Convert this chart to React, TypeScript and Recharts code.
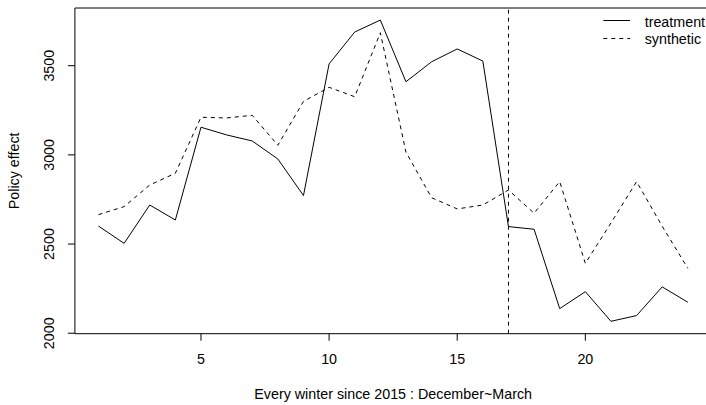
import React from 'react';
import { LineChart, Line, XAxis, YAxis, ReferenceLine, ReferenceArea, Legend } from 'recharts';

const periods = [1, 2, 3, 4, 5, 6, 7, 8, 9, 10, 11, 12, 13, 14, 15, 16, 17, 18, 19, 20, 21, 22, 23, 24];
const treatment = [2601, 2504, 2719, 2635, 3155, 3112, 3078, 2977, 2772, 3510, 3689, 3756, 3410, 3522, 3594, 3526, 2598, 2583, 2138, 2233, 2067, 2099, 2260, 2174];
const synthetic = [2665, 2710, 2831, 2897, 3211, 3207, 3222, 3054, 3300, 3379, 3326, 3685, 3015, 2760, 2697, 2719, 2803, 2673, 2850, 2392, 2618, 2850, 2600, 2364];
const xTicks = [5, 10, 15, 20];
const yTicks = [2000, 2500, 3000, 3500];
const interventionPeriod = 17;
const seriesNames = ['treatment', 'synthetic'];
const xLabel = 'Every winter since 2015 : December~March';
const yLabel = 'Policy effect';

const data = periods.map((p, i) => ({ period: p, treatment: treatment[i], synthetic: synthetic[i] }));

const FONT = '"Liberation Sans", Arial, sans-serif';
const FS = 14.3;
const X_DOMAIN: [number, number] = [0.08, 24.92];
const Y_DOMAIN: [number, number] = [1997.4, 3823.6];

const YTick = (props: any) => {
  const { y, payload } = props;
  return (
    <text
      x={0}
      y={0}
      transform={`translate(48.5,${y}) rotate(-90)`}
      textAnchor="middle"
      dominantBaseline="central"
      fontSize={FS}
      fontFamily={FONT}
      fill="#000"
    >
      {payload.value}
    </text>
  );
};

const YTitle = (props: any) => {
  const vb = props.viewBox || {};
  const cy = vb.y + vb.height / 2;
  return (
    <text
      x={0}
      y={0}
      transform={`translate(13.5,${cy}) rotate(-90)`}
      textAnchor="middle"
      dominantBaseline="central"
      fontSize={FS}
      fontFamily={FONT}
      fill="#000"
    >
      {yLabel}
    </text>
  );
};

const XTitle = (props: any) => {
  const vb = props.viewBox || {};
  const cx = vb.x + vb.width / 2;
  return (
    <text x={cx} y={399} textAnchor="middle" fontSize={FS} fontFamily={FONT} fill="#000">
      {xLabel}
    </text>
  );
};

const LegendContent = () => (
  <svg width={110} height={45} style={{ display: 'block' }}>
    <line x1={8.3} x2={35} y1={10.5} y2={10.5} stroke="#000" strokeWidth={1} />
    <text x={49.7} y={16.5} fontSize={FS} fontFamily={FONT} fill="#000">{seriesNames[0]}</text>
    <line x1={8.3} x2={35} y1={28.5} y2={28.5} stroke="#000" strokeWidth={1} strokeDasharray="4 4" />
    <text x={49.7} y={33.5} fontSize={FS} fontFamily={FONT} fill="#000">{seriesNames[1]}</text>
  </svg>
);

export default function App() {
  return (
    <div style={{ position: 'absolute', left: 0, top: 0, width: 706, height: 405, overflow: 'hidden', background: '#fff' }}>
      <LineChart
        width={720}
        height={405}
        data={data}
        margin={{ top: 8, right: 8.6, bottom: 0, left: 0 }}
      >
        <XAxis
          type="number"
          dataKey="period"
          domain={X_DOMAIN}
          ticks={xTicks}
          allowDataOverflow
          height={71.3}
          tickSize={7}
          tickMargin={13}
          axisLine={false}
          tickLine={{ stroke: '#000' }}
          tick={{ fontSize: FS, fontFamily: FONT, fill: '#000' }}
          label={<XTitle />}
        />
        <YAxis
          type="number"
          domain={Y_DOMAIN}
          ticks={yTicks}
          allowDataOverflow
          width={74.9}
          tickSize={7}
          axisLine={false}
          tickLine={{ stroke: '#000' }}
          tick={<YTick />}
          label={<YTitle />}
        />
        <ReferenceArea
          x1={X_DOMAIN[0]}
          x2={X_DOMAIN[1]}
          y1={Y_DOMAIN[0]}
          y2={Y_DOMAIN[1]}
          fill="none"
          fillOpacity={0}
          stroke="#000"
          strokeWidth={1}
          ifOverflow="visible"
        />
        <ReferenceLine x={interventionPeriod} stroke="#000" strokeDasharray="4 4" strokeWidth={1} />
        <Line
          type="linear"
          dataKey="treatment"
          name={seriesNames[0]}
          stroke="#000"
          strokeWidth={1}
          dot={false}
          isAnimationActive={false}
        />
        <Line
          type="linear"
          dataKey="synthetic"
          name={seriesNames[1]}
          stroke="#000"
          strokeWidth={1}
          strokeDasharray="4 4"
          dot={false}
          isAnimationActive={false}
        />
        <Legend
          layout="vertical"
          align="center"
          verticalAlign="middle"
          content={<LegendContent />}
          wrapperStyle={{ position: 'absolute', left: 595, top: 10, width: 110, height: 45, margin: 0, padding: 0 }}
        />
      </LineChart>
    </div>
  );
}
